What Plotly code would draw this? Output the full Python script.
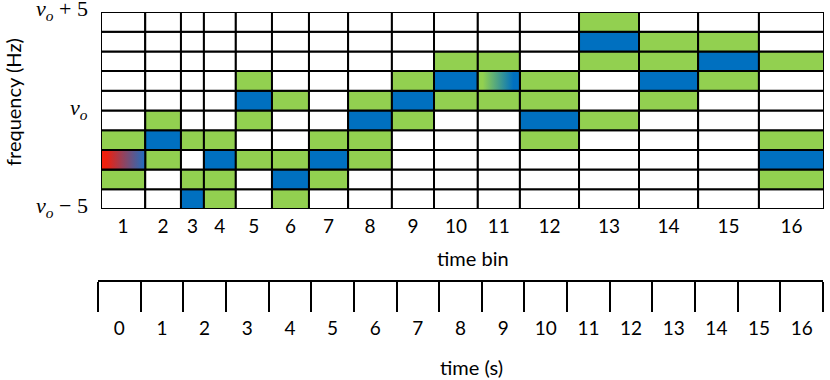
import plotly.graph_objects as go

# time bin edges (s) - bins are not of equal length
bin_edges = [-0.5, 0.54, 1.38, 1.92, 2.67, 3.52, 4.39, 5.31, 6.34, 7.33,
             8.36, 9.35, 10.74, 12.15, 13.54, 14.97, 16.5]
bin_labels = [str(i) for i in range(1, 17)]

# frequency rows, offset from nu_o (Hz)
freq_lo = -5
n_rows = 10
freq_ticks = [-5, 0, 5]
freq_labels = ["<i>ν</i><sub><i>o</i></sub> − 5", "<i>ν</i><sub><i>o</i></sub>",
               "<i>ν</i><sub><i>o</i></sub> + 5"]

# cell state per time bin, bottom row first
# w = empty, g = candidate, b = chosen, R = start (red->blue), X = green->blue
cells = [
    "wgRgwwwwww",
    "wwgbgwwwww",
    "bgwgwwwwww",
    "ggbgwwwwww",
    "wwgwgbgwww",
    "gbgwwgwwww",
    "wgbgwwwwww",
    "wwggbgwwww",
    "wwwwgbgwww",
    "wwwwwgbgww",
    "wwwwwgXgww",
    "wwwgbggwww",
    "wwwwgwwgbg",
    "wwwwwgbggw",
    "wwwwwwgbgw",
    "wgbgwwwgww",
]

# time axis (s)
time_ticks = list(range(0, 17))
time_edges = [t - 0.5 for t in range(0, 18)]

colors = {"w": "white", "g": "#92D050", "b": "#0070C0", "R": "white", "X": "white"}
gradients = {
    "R": [[0, "#F5200A"], [0.12, "#EE200F"], [1, "#1E6FC2"]],
    "X": [[0, "#92D050"], [0.12, "#92D050"], [0.85, "#0070C0"], [1, "#0070C0"]],
}

centers = [(a + b) / 2 for a, b in zip(bin_edges[:-1], bin_edges[1:])]
widths = [b - a for a, b in zip(bin_edges[:-1], bin_edges[1:])]

fig = go.Figure()

# one bar trace per frequency row
for r in range(n_rows):
    fig.add_trace(go.Bar(
        x=centers, y=[1] * len(centers), base=freq_lo + r, width=widths,
        marker=dict(color=[colors[c[r]] for c in cells],
                    line=dict(color="black", width=2)),
        cliponaxis=False, showlegend=False, hoverinfo="skip",
    ))

# gradient cells drawn on top
for i, col in enumerate(cells):
    for r, c in enumerate(col):
        if c in gradients:
            x0, x1 = bin_edges[i], bin_edges[i + 1]
            y0, y1 = freq_lo + r, freq_lo + r + 1
            fig.add_trace(go.Scatter(
                x=[x0, x1, x1, x0, x0], y=[y0, y0, y1, y1, y0],
                mode="lines", fill="toself",
                fillgradient=dict(type="horizontal", colorscale=gradients[c]),
                line=dict(color="black", width=2),
                cliponaxis=False, showlegend=False, hoverinfo="skip",
            ))

# dummy trace so the time axis gets drawn
fig.add_trace(go.Scatter(x=[time_ticks[0]], y=[0], xaxis="x2", yaxis="y",
                         mode="markers", marker=dict(opacity=0),
                         showlegend=False, hoverinfo="skip"))

tick_font = dict(family="Lato, sans-serif", size=19, color="black")
title_font = dict(family="Lato, sans-serif", size=20, color="black")
nu_font = dict(family="Liberation Serif, serif", size=22, color="black")

# frequency labels as annotations (tick labels at the top edge get pushed around)
freq_annots = [
    dict(text=lab, x=90 / 830, xref="paper", y=val, yref="y", xanchor="right",
         yanchor="middle", yshift=2, showarrow=False, font=nu_font)
    for val, lab in zip(freq_ticks, freq_labels)
]

fig.update_layout(
    template="none",
    width=830, height=380,
    margin=dict(l=0, r=0, t=0, b=0),
    paper_bgcolor="white", plot_bgcolor="rgba(0,0,0,0)",
    barmode="overlay",
    font=tick_font,
    xaxis=dict(
        domain=[101 / 830, 824 / 830], range=[bin_edges[0], bin_edges[-1]],
        tickvals=centers, ticktext=bin_labels, ticks="", showgrid=False,
        zeroline=False, showline=False, tickfont=tick_font, automargin=False,
        ticklabelstandoff=4,
    ),
    yaxis=dict(
        domain=[1 - 209 / 380, 1 - 12 / 380], range=[freq_lo, freq_lo + n_rows],
        showticklabels=False, ticks="", showgrid=False,
        zeroline=False, showline=False, automargin=False,
    ),
    xaxis2=dict(
        domain=[98 / 830, 823 / 830], range=[time_edges[0], time_edges[-1]],
        anchor="free", position=1 - 281 / 380, side="bottom", automargin=False,
        showline=True, linecolor="black", linewidth=2,
        tickvals=time_ticks, ticktext=[str(t) for t in time_ticks],
        ticks="outside", ticklen=30, tickcolor="rgba(0,0,0,0)",
        minor=dict(tickvals=time_edges, ticks="outside", ticklen=30,
                   tickwidth=2, tickcolor="black"),
        showgrid=False, zeroline=False, tickfont=tick_font,
    ),
    annotations=freq_annots + [
        dict(text="time bin", x=473 / 830, y=1 - 258 / 380, xref="paper", yref="paper",
             xanchor="center", yanchor="middle", showarrow=False, font=title_font),
        dict(text="time (s)", x=471 / 830, y=1 - 367 / 380, xref="paper", yref="paper",
             xanchor="center", yanchor="middle", showarrow=False, font=title_font),
        dict(text="frequency (Hz)", x=13 / 830, y=1 - 102 / 380, xref="paper",
             yref="paper", xanchor="center", yanchor="middle", showarrow=False,
             textangle=-90, font=title_font),
    ],
)

fig.write_html("out.html", config={"displayModeBar": False},
               post_script="document.body.style.margin='0';")
